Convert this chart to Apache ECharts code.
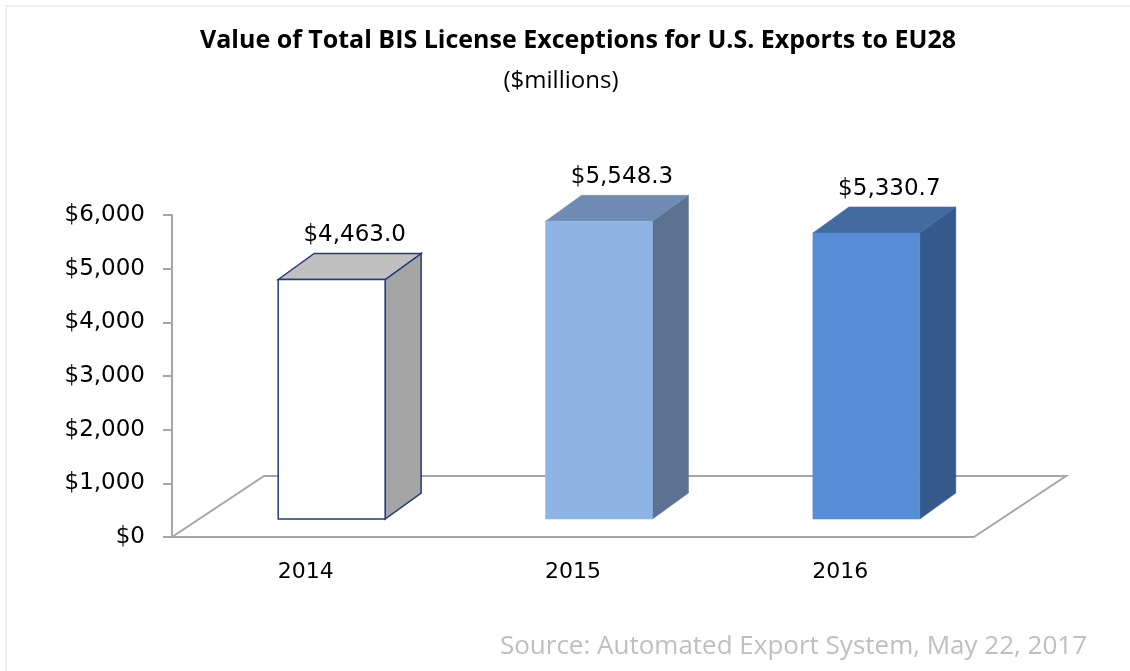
<!DOCTYPE html>
<html>
<head>
<meta charset="utf-8">
<title>BIS License Exceptions EU28</title>
<script src="https://cdn.jsdelivr.net/npm/echarts@6/dist/echarts.min.js"></script>
<style>
  html, body { margin: 0; padding: 0; background: #fff; }
  #chart { width: 1130px; height: 671px; }
</style>
</head>
<body>
<div id="chart"></div>
<script>
// data
const years = ["2014", "2015", "2016"];
const values = [4463.0, 5548.3, 5330.7];
const yTicks = [0, 1000, 2000, 3000, 4000, 5000, 6000];

// face colours for each bar: front, top, side, border
const faceColors = [
  { front: "#ffffff", top: "#c0c0c0", side: "#a5a5a5", border: "#1f3c7c" },
  { front: "#8db4e3", top: "#6e8bb3", side: "#5b7391", border: null },
  { front: "#568dd4", top: "#426ba2", side: "#35598a", border: null },
];

// 3d offsets (pixels)
const floorDepth = [92, -61];
const barShift = [26, -18];
const barDepth = [36, -26];

var myChart = echarts.init(document.getElementById("chart"));
var option;

function fmtMoney(v, digits) {
  return "$" + v.toLocaleString("en-US", {
    minimumFractionDigits: digits,
    maximumFractionDigits: digits,
  });
}

option = {
  animation: false,
  backgroundColor: "#fff",
  title: [
    {
      text: "Value of Total BIS License Exceptions for U.S. Exports to EU28",
      left: 573,
      top: 23,
      textAlign: "center",
      textStyle: {
        fontFamily: "Open Sans",
        fontWeight: "bold",
        fontSize: 25,
        color: "#000",
      },
    },
    {
      text: "($millions)",
      left: 556,
      top: 64,
      textAlign: "center",
      textStyle: {
        fontFamily: "Open Sans",
        fontWeight: "normal",
        fontSize: 24,
        color: "#000",
      },
    },
  ],
  graphic: [
    {
      type: "rect",
      shape: { x: 6, y: 6, width: 1200, height: 800 },
      style: { fill: "none", stroke: "#efefef", lineWidth: 2 },
      silent: true,
    },
    {
      type: "text",
      right: 43,
      top: 634,
      style: {
        text: "Source: Automated Export System, May 22, 2017",
        fontFamily: "Open Sans",
        fontSize: 26,
        fill: "#bfbfbf",
      },
    },
  ],
  grid: {
    left: 172,
    top: 215,
    width: 802,
    height: 322,
  },
  xAxis: {
    type: "category",
    data: years,
    axisLine: { lineStyle: { color: "#a6a6a6", width: 2 } },
    axisTick: { length: 7, lineStyle: { color: "#a6a6a6", width: 2 } },
    axisLabel: {
      margin: 24,
      fontFamily: "DejaVu Sans",
      fontSize: 22,
      color: "#000",
    },
    z: 1,
  },
  yAxis: {
    type: "value",
    min: yTicks[0],
    max: yTicks[yTicks.length - 1],
    interval: 1000,
    splitLine: { show: false },
    axisLine: { show: true, lineStyle: { color: "#a6a6a6", width: 2 } },
    axisTick: { show: true, length: 9, lineStyle: { color: "#a6a6a6", width: 2 } },
    axisLabel: {
      margin: 27,
      fontFamily: "DejaVu Sans",
      fontSize: 23,
      color: "#000",
      formatter: function (v) {
        return fmtMoney(v, 0);
      },
    },
  },
  series: [
    // floor of the 3d plot area
    {
      type: "custom",
      silent: true,
      z: 1,
      data: [0],
      renderItem: function (params, api) {
        var cs = params.coordSys;
        var x0 = cs.x, x1 = cs.x + cs.width, y = cs.y + cs.height;
        return {
          type: "polyline",
          shape: {
            points: [
              [x0, y],
              [x0 + floorDepth[0], y + floorDepth[1]],
              [x1 + floorDepth[0], y + floorDepth[1]],
              [x1, y],
            ],
          },
          style: { fill: "none", stroke: "#a6a6a6", lineWidth: 2 },
        };
      },
    },
    // 3d bars
    {
      type: "custom",
      z: 3,
      data: values.map(function (v, i) {
        return [i, v];
      }),
      encode: { x: 0, y: 1 },
      renderItem: function (params, api) {
        var i = api.value(0);
        var v = api.value(1);
        var base = api.coord([i, 0]);
        var top = api.coord([i, v]);
        var band = api.size([1, 0])[0];
        var bw = band * 0.4;
        var x0 = base[0] - bw / 2 + barShift[0];
        var x1 = x0 + bw;
        var yb = base[1] + barShift[1];
        var yt = top[1] + barShift[1];
        var dx = barDepth[0], dy = barDepth[1];
        var c = faceColors[params.dataIndex];
        var stroke = c.border;
        var lw = stroke ? 1.5 : 0;
        function face(points, fill) {
          return {
            type: "polygon",
            shape: { points: points },
            style: { fill: fill, stroke: stroke || fill, lineWidth: stroke ? lw : 0.5 },
          };
        }
        return {
          type: "group",
          children: [
            face([[x1, yt], [x1 + dx, yt + dy], [x1 + dx, yb + dy], [x1, yb]], c.side),
            face([[x0, yt], [x0 + dx, yt + dy], [x1 + dx, yt + dy], [x1, yt]], c.top),
            face([[x0, yb], [x0, yt], [x1, yt], [x1, yb]], c.front),
            {
              type: "text",
              style: {
                x: (x0 + x1) / 2 + 23,
                y: yt + dy - 18,
                text: fmtMoney(v, 1),
                align: "center",
                verticalAlign: "middle",
                fontFamily: "DejaVu Sans",
                fontSize: 23,
                fill: "#000",
              },
            },
          ],
        };
      },
    },
  ],
};

option && myChart.setOption(option);
</script>
</body>
</html>
